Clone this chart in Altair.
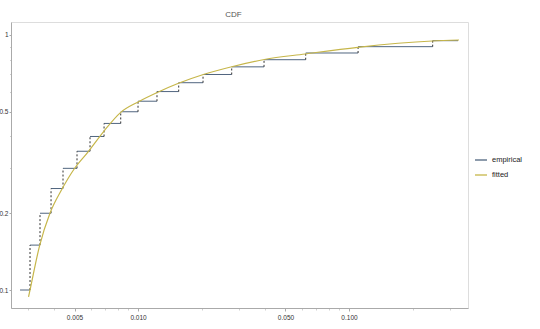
import altair as alt
import pandas as pd

# Empirical CDF: jump locations and the level reached at each jump
jump_x = [0.002759, 0.003077, 0.003431, 0.003870, 0.004410, 0.005138, 0.005922,
          0.006902, 0.008279, 0.01000, 0.01230, 0.01559, 0.02033, 0.02780,
          0.03956, 0.06233, 0.1104, 0.2492]
levels = [0.10, 0.15, 0.20, 0.25, 0.30, 0.35, 0.40, 0.45, 0.50,
          0.55, 0.60, 0.65, 0.70, 0.75, 0.80, 0.85, 0.90, 0.95]
x_end = 0.3286

# Fitted CDF
fit_x = [0.003027, 0.003077, 0.003412, 0.003828, 0.004363, 0.005000, 0.005763,
         0.006902, 0.008279, 0.01006, 0.01248, 0.01555, 0.02040, 0.02780,
         0.03969, 0.06185, 0.1100, 0.2481, 0.3321]
fit_y = [0.0939, 0.1000, 0.1487, 0.2004, 0.2489, 0.2996, 0.3461,
         0.4202, 0.4974, 0.5477, 0.5977, 0.6465, 0.6999, 0.7510,
         0.8015, 0.8424, 0.8950, 0.9473, 0.9558]

x_major = [0.005, 0.01, 0.05, 0.1]
x_minor = [0.003, 0.004, 0.006, 0.007, 0.008, 0.009, 0.02, 0.03, 0.04,
           0.06, 0.07, 0.08, 0.09, 0.2, 0.3]
y_major = [0.1, 0.2, 0.5, 1.0]
y_minor = [0.3, 0.4, 0.6, 0.7, 0.8, 0.9]
series_names = ["empirical", "fitted"]
series_colors = ["#50657f", "#c6b64a"]

seg = pd.DataFrame({
    "x": jump_x,
    "x2": jump_x[1:] + [x_end],
    "y": levels,
    "series": series_names[0],
})
jumps = pd.DataFrame({"x": jump_x[1:], "y": levels[:-1], "y2": levels[1:]})
fit = pd.DataFrame({"x": fit_x, "y": fit_y, "series": series_names[1]})

FONT = "Liberation Sans"
xs = alt.Scale(type="log", domain=[0.0025, 0.3664], nice=False)
ys = alt.Scale(type="log", domain=[0.0850, 1.1245], nice=False)
cs = alt.Scale(domain=series_names, range=series_colors)

x_major_js = "[" + ",".join(str(v) for v in x_major) + "]"
y_major_js = "[" + ",".join(str(v) for v in y_major) + "]"
x_is_major = f"indexof({x_major_js}, datum.value) >= 0"
y_is_major = f"indexof({y_major_js}, datum.value) >= 0"

x_axis = alt.Axis(values=x_major + x_minor, title=None, grid=False,
                  labelExpr=f"{x_is_major} ? format(datum.value, '.3f') : ''",
                  tickSize={"condition": {"test": x_is_major, "value": 3}, "value": 2},
                  tickColor={"condition": {"test": x_is_major, "value": "#aaaaaa"}, "value": "#d0d0d0"},
                  labelFont=FONT, labelFontSize=6.5, labelColor="#333", labelPadding=3,
                  domainColor="#aaaaaa", labelFlush=False)
y_axis = alt.Axis(values=y_major + y_minor, title=None, grid=False,
                  labelExpr=f"{y_is_major} ? format(datum.value, '~g') : ''",
                  tickSize={"condition": {"test": y_is_major, "value": 2}, "value": 1.5},
                  tickColor={"condition": {"test": y_is_major, "value": "#aaaaaa"}, "value": "#d0d0d0"},
                  labelFont=FONT, labelFontSize=6.5, labelColor="#333", labelPadding=1,
                  domainColor="#aaaaaa")

legend = alt.Legend(title=None, orient="none", legendX=463, legendY=131,
                    symbolType="stroke", symbolSize=144, symbolStrokeWidth=1.3,
                    labelFont=FONT, labelFontSize=7.5, labelColor="#222",
                    rowPadding=4, labelOffset=4, padding=0)

steps = alt.Chart(seg).mark_rule(strokeWidth=1).encode(
    x=alt.X("x:Q", scale=xs, axis=x_axis),
    x2="x2:Q",
    y=alt.Y("y:Q", scale=ys, axis=y_axis),
    color=alt.Color("series:N", scale=cs, legend=legend),
)

dashes = alt.Chart(jumps).mark_rule(strokeWidth=1, strokeDash=[2, 2], color="#333333").encode(
    x=alt.X("x:Q", scale=xs),
    y=alt.Y("y:Q", scale=ys),
    y2="y2:Q",
)

fitted = alt.Chart(fit).mark_line(strokeWidth=1.2, interpolate="monotone").encode(
    x=alt.X("x:Q", scale=xs),
    y=alt.Y("y:Q", scale=ys),
    color=alt.Color("series:N", scale=cs, legend=legend),
)

chart = alt.layer(steps, dashes, fitted).properties(
    width=457,
    height=286,
    title=alt.TitleParams("CDF", font=FONT, fontSize=8, fontWeight="normal",
                          color="#555555", offset=3, dx=-6),
    autosize=alt.AutoSizeParams(type="none"),
    padding={"left": 11, "top": 22, "right": 72, "bottom": 21},
).configure_view(stroke=None).configure(background="white")

chart.save("out.html", embed_options={"renderer": "svg", "actions": False})
